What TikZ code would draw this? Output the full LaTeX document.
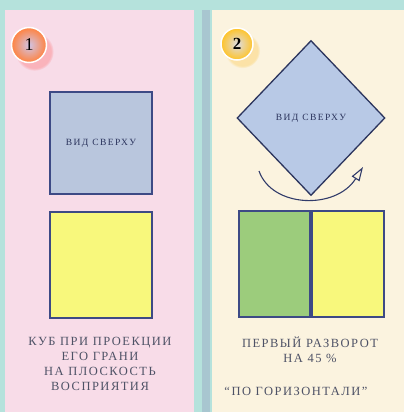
\documentclass[tikz,border=0pt]{standalone}
\usepackage{fontspec}
\setmainfont{Liberation Serif}
\usepackage{tikz}
\usetikzlibrary{shapes,arrows,arrows.meta,shadows}
\definecolor{seaband}{HTML}{B5E2DC}
\definecolor{stripe}{HTML}{A8C6D0}
\definecolor{pinkpanel}{HTML}{F8DCE8}
\definecolor{creampanel}{HTML}{FBF3DF}
\definecolor{topblue}{HTML}{B9C6DD}
\definecolor{turnblue}{HTML}{B8C9E6}
\definecolor{edgeblue}{HTML}{3D4A85}
\definecolor{faceyellow}{HTML}{F8F87C}
\definecolor{facegreen}{HTML}{9CCC7C}
\definecolor{inkgray}{HTML}{4E5266}
\tikzstyle{badge} = [circle, draw=white, line width=1.5pt, minimum size=35pt,
    inner sep=0pt, font=\fontsize{18}{18}\selectfont]
\tikzstyle{topview} = [rectangle, draw=edgeblue, fill=topblue, line width=1.6pt,
    minimum size=102pt, inner sep=0pt, text=edgeblue!70!black,
    font=\fontsize{9.5}{10}\selectfont\addfontfeature{LetterSpace=15}]
\tikzstyle{face} = [rectangle, draw=edgeblue, line width=1.6pt, inner sep=0pt,
    minimum height=106pt]
\tikzstyle{caption} = [align=center, text=inkgray, inner sep=0pt,
    font=\fontsize{12.5}{15}\selectfont\addfontfeature{LetterSpace=12}]
\tikzstyle{turn} = [draw=edgeblue!80!black, line width=1.1pt,
    -{Triangle[open, length=14pt, width=9pt]}]

\begin{document}
\begin{tikzpicture}[x=1pt, y=-1pt]
    \useasboundingbox (0,0) rectangle (404,412);
    % Background
    \fill [seaband] (0,0) rectangle (404,412);
    \fill [pinkpanel] (5,10) rectangle (194,412);
    \fill [stripe] (202,10) rectangle (210,412);
    \fill [creampanel] (212,10) rectangle (404,412);
    % Place nodes
    \node [badge, inner color=white!80!blue!90!orange, outer color=orange!70!red!75!white,
        circular drop shadow={shadow xshift=5pt, shadow yshift=-6pt,
        fill=red!55!pink, opacity=0.3}] (one) at (29,45) {1};
    \node [topview] (top) at (101,143) {ВИД СВЕРХУ};
    \node [face, fill=faceyellow, minimum width=102pt] (front) at (101,265) {};
    \node [caption, anchor=north] (capone) at (100,337)
        {КУБ ПРИ ПРОЕКЦИИ\\ЕГО ГРАНИ\\НА ПЛОСКОСТЬ\\ВОСПРИЯТИЯ};

    \node [badge, minimum size=32pt, font=\fontsize{17}{17}\selectfont\bfseries,
        inner color=white!85!blue!90!yellow, outer color=orange!55!yellow!85!white,
        circular drop shadow={shadow xshift=5pt, shadow yshift=-6pt,
        fill=orange!60!yellow, opacity=0.25}] (two) at (237,44) {2};
    \node [topview, diamond, minimum width=148pt, minimum height=155pt,
        line width=1.3pt, draw=edgeblue!70!black, fill=turnblue] (turned) at (311,118) {ВИД СВЕРХУ};
    \node [face, fill=facegreen, minimum width=71pt, anchor=east] (left) at (311,264) {};
    \node [face, fill=faceyellow, minimum width=72pt, anchor=west] (right) at (311,264) {};
    \node [caption, anchor=north] (captwo) at (310,337)
        {ПЕРВЫЙ РАЗВОРОТ\\НА 45 \%};
    \node [caption, anchor=north] (quote) at (296,387) {“ПО ГОРИЗОНТАЛИ”};
    % Draw edges
    \coordinate (from) at (259,171);
    \coordinate (to) at (363,167);
    \path [turn] (from) .. controls (272,208) and (336,210) .. (to);
\end{tikzpicture}
\end{document}
